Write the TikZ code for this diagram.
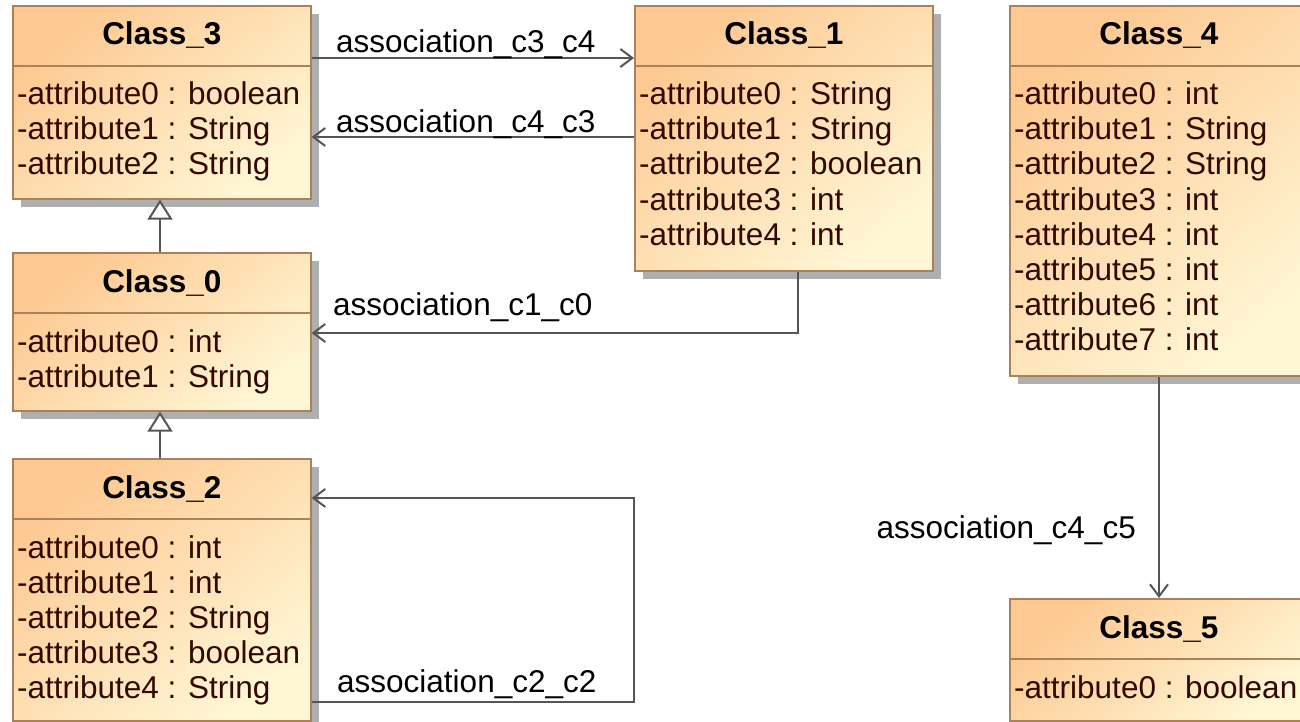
\documentclass[tikz,border=0pt]{standalone}
\usepackage{fontspec}
\setmainfont{Liberation Sans}
\usetikzlibrary{arrows.meta,shadows}
\definecolor{orangeA}{RGB}{253,200,145}
\definecolor{yellowA}{RGB}{255,246,212}
\definecolor{borderc}{RGB}{170,130,90}
\definecolor{linec}{RGB}{85,85,85}
\definecolor{attrc}{RGB}{50,8,0}
\definecolor{shadowc}{RGB}{175,175,175}
\tikzset{
  classbox/.style={draw=borderc, line width=1.6pt, top color=orangeA, bottom color=yellowA,
    shading angle=40, minimum width=298pt, inner sep=0pt,
    drop shadow={shadow xshift=8pt, shadow yshift=-8pt, fill=shadowc, opacity=1}},
  divider/.style={draw=borderc, line width=1.4pt},
  titletext/.style={inner sep=0pt, font=\fontsize{31.5}{35}\selectfont\bfseries, text=black},
  attrtext/.style={inner sep=0pt, font=\fontsize{31.5}{35}\selectfont, text=attrc},
  labeltext/.style={inner sep=0pt, font=\fontsize{31.5}{35}\selectfont, text=black},
  assoc/.style={draw=linec, line width=2pt, -{Straight Barb[length=12pt,width=18pt,line width=2pt]}},
  gener/.style={draw=linec, line width=2pt, -{Triangle[open,length=20pt,width=25pt,line width=2pt,fill=white]}},
}
\newcommand\UMLcls[6]{%
  \node[classbox, minimum height=#4, anchor=north west] (#1) at (#2,#3) {};
  \draw[divider] ([yshift=-61pt]#1.north west) -- ([yshift=-61pt]#1.north east);
  \node[titletext, anchor=base] (#1-t) at ([yshift=-40pt]#1.north) {#5};
  \foreach \a [count=\i] in {#6}
    \node[attrtext, anchor=base west] (#1-a\i) at ([xshift=5pt,yshift={-100pt-35pt*(\i-1)}]#1.north west) {\a};
}
\begin{document}
\begin{tikzpicture}[x=1pt,y=-1pt]
\useasboundingbox (0,0) rectangle (1300,722);
\clip (0,0) rectangle (1300,722);
\fill[white] (0,0) rectangle (1300,722);
\UMLcls{c3}{12}{5}{193pt}{Class\_3}{-attribute0 : boolean,-attribute1 : String,-attribute2 : String}
\UMLcls{c1}{634}{5}{265pt}{Class\_1}{-attribute0 : String,-attribute1 : String,-attribute2 : boolean,-attribute3 : int,-attribute4 : int}
\UMLcls{c4}{1009}{5}{370pt}{Class\_4}{-attribute0 : int,-attribute1 : String,-attribute2 : String,-attribute3 : int,-attribute4 : int,-attribute5 : int,-attribute6 : int,-attribute7 : int}
\UMLcls{c0}{12}{252}{158pt}{Class\_0}{-attribute0 : int,-attribute1 : String}
\UMLcls{c2}{12}{458}{262pt}{Class\_2}{-attribute0 : int,-attribute1 : int,-attribute2 : String,-attribute3 : boolean,-attribute4 : String}
\UMLcls{c5}{1009}{598}{122pt}{Class\_5}{-attribute0 : boolean}
% generalizations
\draw[gener] (c0.north -| 160,0) -- (c3.south -| 160,0);
\draw[gener] (c2.north -| 160,0) -- (c0.south -| 160,0);
% associations
\coordinate (p34) at (0,58);
\draw[assoc] (c3.east |- p34) -- (c1.west |- p34);
\node[labeltext, anchor=base west] (l34) at (336,53) {association\_c3\_c4};
\coordinate (p43) at (0,137);
\draw[assoc] (c1.west |- p43) -- (c3.east |- p43);
\node[labeltext, anchor=base west] (l43) at (336,133) {association\_c4\_c3};
\coordinate (p10) at (798,333);
\draw[assoc] (c1.south -| p10) -- (p10) -- (c0.east |- p10);
\node[labeltext, anchor=base west] (l10) at (333,315) {association\_c1\_c0};
\coordinate (p22a) at (634,702);
\coordinate (p22b) at (634,498);
\draw[assoc] (c2.east |- p22a) -- (p22a) -- (p22b) -- (c2.east |- p22b);
\node[labeltext, anchor=base west] (l22) at (337,692) {association\_c2\_c2};
\coordinate (p45) at (1159,0);
\draw[assoc] (c4.south -| p45) -- (c5.north -| p45);
\node[labeltext, anchor=base east] (l45) at (1136,538) {association\_c4\_c5};
\end{tikzpicture}
\end{document}
